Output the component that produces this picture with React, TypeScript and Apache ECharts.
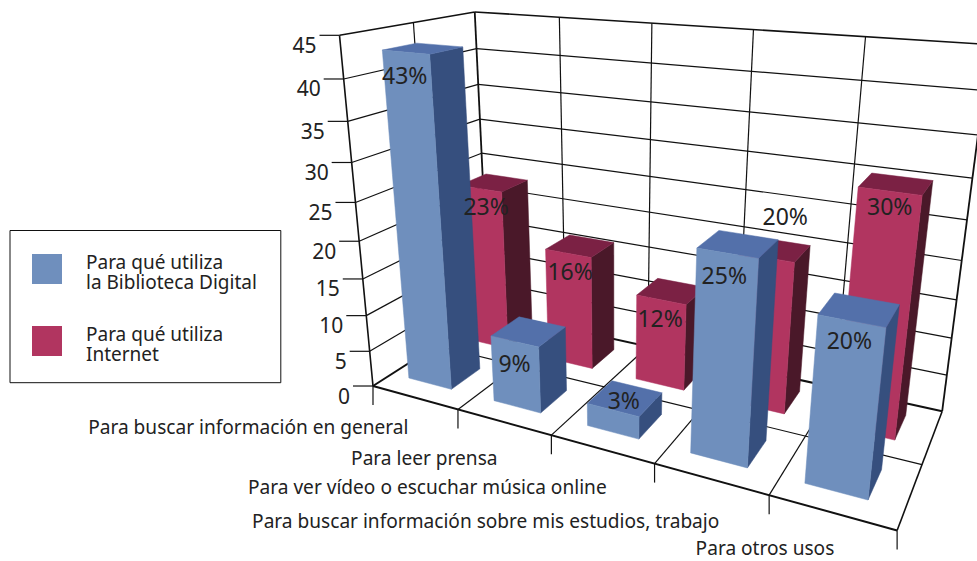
import React, { useEffect, useRef } from "react";
import * as echarts from "echarts";

const categories = [
  "Para buscar información en general",
  "Para leer prensa",
  "Para ver vídeo o escuchar música online",
  "Para buscar información sobre mis estudios, trabajo",
  "Para otros usos",
];
const digitalName = "Para qué utiliza\nla Biblioteca Digital";
const internetName = "Para qué utiliza\nInternet";
const digitalValues = [43, 9, 3, 25, 20];
const internetValues = [23, 16, 12, 20, 30];
const valueTicks = [0, 5, 10, 15, 20, 25, 30, 35, 40, 45];

// Perspective camera: fitted from reference points (u, depth, h) -> (px, py)
const cameraFit: number[][] = [
  [0, 0, 0, 373.3, 385.7], [0.2, 0, 0, 458.3, 409.2], [0.4, 0, 0, 551.7, 435], [0.6, 0, 0, 653.3, 463],
  [0.8, 0, 0, 768.3, 494.8], [1, 0, 0, 895.7, 530],
  [0, 1, 0, 486, 312], [1, 1, 0, 943.3, 412.3], [1, 0.5, 0, 921.7, 465.7],
  [0, 0, 1, 338.3, 35.7], [0, 0.5, 1, 413.3, 23.3], [0, 1, 1, 475, 11.7],
  [0.2, 1, 1, 560, 17.3], [0.4, 1, 1, 653.3, 23.3], [0.6, 1, 1, 754.3, 29], [0.8, 1, 1, 866.7, 36.7], [1, 1, 1, 988, 44],
  [0, 0, 8 / 9, 342.7, 78.3], [0, 0, 7 / 9, 348, 121], [0, 0, 6 / 9, 352, 161], [0, 0, 5 / 9, 356, 201],
  [0, 0, 4 / 9, 360, 241.7], [0, 0, 3 / 9, 363.5, 278.3], [0, 0, 2 / 9, 367, 316], [0, 0, 1 / 9, 370, 351],
  [0, 1, 8 / 9, 476.7, 50], [0, 1, 7 / 9, 478.3, 84], [0, 1, 6 / 9, 480, 118.7], [0, 1, 5 / 9, 483.3, 154],
  [1, 1, 8 / 9, 982.3, 89.3], [1, 1, 7 / 9, 977, 135], [1, 1, 6 / 9, 971.7, 177.3], [1, 1, 5 / 9, 966.7, 220],
  [1, 1, 4 / 9, 961.7, 260], [1, 1, 3 / 9, 956.7, 300], [1, 1, 2 / 9, 951.7, 336.7], [1, 1, 1 / 9, 947.7, 375],
  [0.041, 0.145, 43 / 45, 380, 51], [0.143, 0.145, 43 / 45, 428.3, 55],
  [0.641, 0.145, 25 / 45, 697.7, 248.3], [0.743, 0.145, 25 / 45, 759, 259.3],
  [0.841, 0.145, 20 / 45, 821, 317.7], [0.943, 0.145, 20 / 45, 886.7, 328.3],
];

function fitCamera(): number[] {
  const n = 11;
  const A: number[][] = Array.from({ length: n }, () => new Array(n + 1).fill(0));
  const add = (row: number[], rhs: number) => {
    for (let i = 0; i < n; i++) {
      for (let j = 0; j < n; j++) A[i][j] += row[i] * row[j];
      A[i][n] += row[i] * rhs;
    }
  };
  cameraFit.forEach(([X, Y, Z, px, py]) => {
    const x = px / 1000, y = py / 1000;
    add([X, Y, Z, 1, 0, 0, 0, 0, -x * X, -x * Y, -x * Z], x);
    add([0, 0, 0, 0, X, Y, Z, 1, -y * X, -y * Y, -y * Z], y);
  });
  for (let c = 0; c < n; c++) {
    let piv = c;
    for (let r = c + 1; r < n; r++) if (Math.abs(A[r][c]) > Math.abs(A[piv][c])) piv = r;
    [A[c], A[piv]] = [A[piv], A[c]];
    for (let r = 0; r < n; r++) {
      if (r === c) continue;
      const f = A[r][c] / A[c][c];
      for (let k = c; k <= n; k++) A[r][k] -= f * A[c][k];
    }
  }
  return A.map((row, i) => row[n] / row[i]);
}
const cam = fitCamera();
function project(u: number, d: number, h: number): number[] {
  const w = cam[8] * u + cam[9] * d + cam[10] * h + 1;
  return [
    (1000 * (cam[0] * u + cam[1] * d + cam[2] * h + cam[3])) / w,
    (1000 * (cam[4] * u + cam[5] * d + cam[6] * h + cam[7])) / w,
  ];
}

const FONT = '"Noto Sans", sans-serif';
const TEXT = "#222222";
const INK = "#111111";
const CATEGORY_SIZE = 19.1;
const AXIS_SIZE = 21;
const DATA_SIZE = 23;
const LEGEND_SIZE = 19;
const BAR_SPAN = [0.205, 0.715];
const DIGITAL_DEPTH = [0.145, 0.385];
const INTERNET_DEPTH = [0.645, 0.885];
const digitalShades = { front: "#6F8FBD", top: "#5370AA", side: "#364F7E" };
const internetShades = { front: "#B13560", top: "#7B2144", side: "#4A1829" };
// Hand placement of the labels, relative to the top front edge of their bar.
const digitalLabelNudge = [[-1, 23], [0, 22], [11, -10], [-3, 22], [-2, 19]];
const internetLabelNudge = [[6, 17], [2, 18], [-1, 18], [19, -42], [0, 15]];
// Hand placement of category labels, relative to the middle of the category's front edge.
const categoryNudge = [[-6, 30], [-6, 36], [5, 38], [9, 42], [3, 36]];
// Swatch with an invisible speck under it, so that it sits 3px above its two-line text's middle.
const LEGEND_ICON = "path://M0 0h30v30h-30zM0 36h0.01v0.01h-0.01z";

function axisFrac(params: any, api: any, cat: number, value: number) {
  const rect = params.coordSys;
  const p = api.coord([cat, value]);
  const band = api.size([1, 0])[0];
  return {
    left: (p[0] - band / 2 - rect.x) / rect.width,
    bandU: band / rect.width,
    h: (rect.y + rect.height - p[1]) / rect.height,
  };
}

function barRenderer(depth: number[], shades: { front: string; top: string; side: string }) {
  return (params: any, api: any) => {
    const f = axisFrac(params, api, api.value(0), api.value(1));
    const u0 = f.left + BAR_SPAN[0] * f.bandU;
    const u1 = f.left + BAR_SPAN[1] * f.bandU;
    const [d0, d1] = depth;
    const poly = (pts: number[][], fill: string) => ({
      type: "polygon",
      shape: { points: pts },
      style: { fill, stroke: fill, lineWidth: 0.5 },
    });
    return {
      type: "group",
      children: [
        poly([project(u1, d0, 0), project(u1, d1, 0), project(u1, d1, f.h), project(u1, d0, f.h)], shades.side),
        poly([project(u0, d0, f.h), project(u1, d0, f.h), project(u1, d1, f.h), project(u0, d1, f.h)], shades.top),
        poly([project(u0, d0, 0), project(u1, d0, 0), project(u1, d0, f.h), project(u0, d0, f.h)], shades.front),
      ],
    };
  };
}

function labelRenderer(depth: number[], nudges: number[][]) {
  return (params: any, api: any) => {
    const cat = api.value(0);
    const f = axisFrac(params, api, cat, api.value(1));
    const u = f.left + ((BAR_SPAN[0] + BAR_SPAN[1]) / 2) * f.bandU;
    const p = project(u, depth[0], f.h);
    return {
      type: "text",
      x: p[0] + nudges[cat][0],
      y: p[1] + nudges[cat][1],
      style: {
        text: `${api.value(1)}%`,
        fill: TEXT,
        fontSize: DATA_SIZE,
        lineHeight: 24,
        fontFamily: FONT,
        align: "center",
        verticalAlign: "middle",
      },
    };
  };
}

function wallsRenderer(params: any, api: any) {
  const children: any[] = [];
  const line = (a: number[], b: number[], lineWidth: number) =>
    children.push({
      type: "line",
      shape: { x1: a[0], y1: a[1], x2: b[0], y2: b[1] },
      style: { stroke: INK, lineWidth },
    });
  const last = categories.length - 1;
  const bounds = categories.map((_, i) => axisFrac(params, api, i, 0));
  const us = [...bounds.map((b) => b.left), bounds[last].left + bounds[last].bandU];

  valueTicks.forEach((tick) => {
    const h = axisFrac(params, api, 0, tick).h;
    const a = project(0, 0, h);
    const isFloor = tick === 0;
    if (!isFloor) {
      line(project(0, 1, h), project(1, 1, h), tick === 45 ? 1.6 : 1.2);
      line(a, project(0, 1, h), tick === 45 ? 1.6 : 1.2);
    }
    line([a[0] - 20, a[1]], a, 1.2);
    children.push({
      type: "text",
      x: a[0] - 23,
      y: a[1] + 9.5,
      style: { text: String(tick), fill: TEXT, fontSize: AXIS_SIZE, lineHeight: 22, fontFamily: FONT, align: "right", verticalAlign: "middle" },
    });
  });

  us.forEach((u, i) => {
    line(project(u, 1, 0), project(u, 1, 1), i === 0 || i === last + 1 ? 1.8 : 1.2);
    line(project(u, 0, 0), project(u, 1, 0), i === 0 ? 2 : i === last + 1 ? 1.6 : 1.2);
    const foot = project(u, 0, 0);
    line(foot, [foot[0], foot[1] + 19], 1.2);
  });
  line(project(0, 0.5, 0), project(0, 0.5, 1), 1.2);
  line(project(0, 0.5, 0), project(1, 0.5, 0), 1.2);
  line(project(0, 1, 0), project(1, 1, 0), 2);
  line(project(0, 0, 0), project(1, 0, 0), 2);
  line(project(0, 0, 0), project(0, 0, 1), 1.6);

  categories.forEach((name, i) => {
    const p = project(us[i] + (us[i + 1] - us[i]) / 2, 0, 0);
    children.push({
      type: "text",
      x: p[0] + categoryNudge[i][0],
      y: p[1] + categoryNudge[i][1],
      style: { text: name, fill: TEXT, fontSize: CATEGORY_SIZE, lineHeight: 19, fontFamily: FONT, align: "right", verticalAlign: "middle" },
    });
  });
  return { type: "group", children };
}

const rows = (values: number[]) => values.map((v, i) => [i, v]);

export default function App() {
  const ref = useRef<HTMLDivElement>(null);
  useEffect(() => {
    const chart = echarts.init(ref.current!, undefined, { renderer: "svg" });
    const xy = { x: 0, y: 1 };
    chart.setOption({
      animation: false,
      backgroundColor: "#ffffff",
      grid: { left: 0, top: 0, width: 977, height: 561 },
      xAxis: { type: "category", data: categories, show: false },
      yAxis: { type: "value", min: 0, max: 45, interval: 5, show: false },
      legend: {
        left: 10,
        top: 230.5,
        orient: "vertical",
        data: [digitalName, internetName],
        icon: LEGEND_ICON,
        itemWidth: 30,
        itemHeight: 36,
        itemGap: 32,
        padding: [21.5, 24, 18.7, 22],
        borderColor: INK,
        borderWidth: 1,
        selectedMode: false,
        textStyle: { fontFamily: FONT, fontSize: LEGEND_SIZE, color: TEXT, lineHeight: 20, padding: [0, 0, 0, 19] },
      },
      series: [
        { type: "custom", name: "walls", z: 1, silent: true, data: [[0, 0]], encode: xy, renderItem: wallsRenderer },
        {
          type: "custom", name: digitalName, z: 3, silent: true, data: rows(digitalValues), encode: xy,
          itemStyle: { color: digitalShades.front }, renderItem: barRenderer(DIGITAL_DEPTH, digitalShades),
        },
        {
          type: "custom", name: internetName, z: 2, silent: true, data: rows(internetValues), encode: xy,
          itemStyle: { color: internetShades.front }, renderItem: barRenderer(INTERNET_DEPTH, internetShades),
        },
        { type: "custom", name: "labelsA", z: 4, silent: true, data: rows(digitalValues), encode: xy, renderItem: labelRenderer(DIGITAL_DEPTH, digitalLabelNudge) },
        { type: "custom", name: "labelsB", z: 4, silent: true, data: rows(internetValues), encode: xy, renderItem: labelRenderer(INTERNET_DEPTH, internetLabelNudge) },
      ],
    });
    return () => chart.dispose();
  }, []);
  return <div ref={ref} style={{ position: "absolute", left: 0, top: 0, width: 977, height: 561 }} />;
}
